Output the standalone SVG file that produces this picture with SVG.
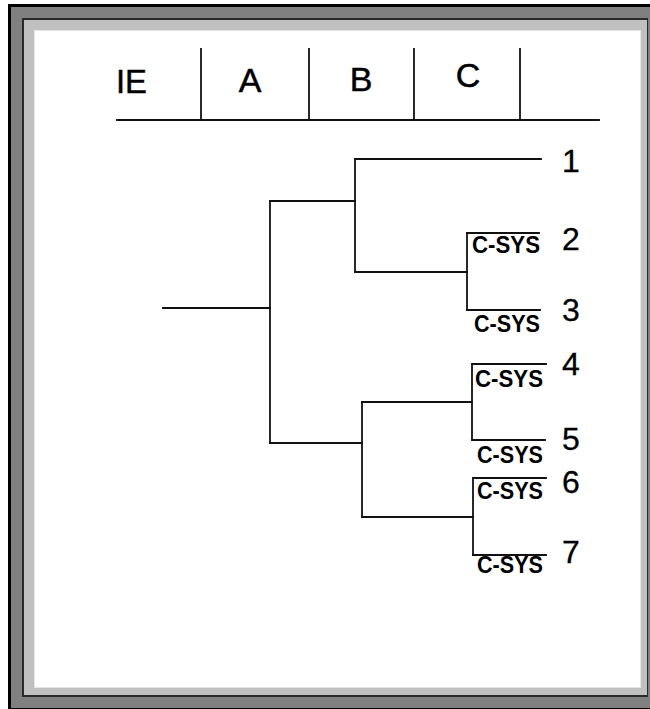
<svg xmlns="http://www.w3.org/2000/svg" width="650" height="709" viewBox="0 0 650 709">
<style>
.hdr{font-family:"Liberation Sans",Arial,sans-serif;font-size:34px;fill:#000;stroke:#000;stroke-width:0.5}
.num{font-family:"Liberation Sans",Arial,sans-serif;font-size:32px;fill:#000;stroke:#000;stroke-width:0.3}
.sys{font-family:"Liberation Sans",Arial,sans-serif;font-size:24px;font-weight:bold;fill:#000}
.ln{stroke:#111;stroke-width:1.8;fill:none;stroke-linecap:square}
</style>
<g id="frame">
<rect x="0" y="0" width="650" height="709" fill="#ffffff"/>
<rect x="8" y="4" width="660" height="720" fill="#000"/>
<rect x="11" y="7" width="660" height="701" fill="#808080"/>
<rect x="22" y="18" width="626" height="679" fill="#2a2a2a"/>
<rect x="24" y="20" width="623" height="675" fill="#c0c0c0"/>
<rect x="34" y="30" width="607" height="658" fill="#e6e6e6"/>
<rect x="35" y="31" width="605" height="656" fill="#ffffff"/>
</g>
<g id="header">
<line class="ln" x1="117" y1="120" x2="599" y2="120"/>
<line class="ln" x1="201" y1="49" x2="201" y2="120"/>
<line class="ln" x1="309" y1="49" x2="309" y2="120"/>
<line class="ln" x1="414" y1="49" x2="414" y2="120"/>
<line class="ln" x1="520" y1="49" x2="520" y2="120"/>
<text class="hdr" x="116" y="93" textLength="31" lengthAdjust="spacingAndGlyphs">IE</text>
<text class="hdr" x="250" y="92" text-anchor="middle">A</text>
<text class="hdr" x="361" y="91" text-anchor="middle">B</text>
<text class="hdr" x="468" y="87" text-anchor="middle">C</text>
</g>
<g id="connectors">
<line class="ln" x1="163" y1="308" x2="270" y2="308"/>
<line class="ln" x1="270" y1="201" x2="270" y2="443"/>
<line class="ln" x1="270" y1="201" x2="355" y2="201"/>
<line class="ln" x1="270" y1="443" x2="362" y2="443"/>
<line class="ln" x1="355" y1="159" x2="355" y2="272"/>
<line class="ln" x1="355" y1="159" x2="541" y2="159"/>
<line class="ln" x1="355" y1="272" x2="467" y2="272"/>
<line class="ln" x1="467" y1="233" x2="467" y2="310"/>
<line class="ln" x1="467" y1="233" x2="539" y2="233"/>
<line class="ln" x1="467" y1="310" x2="540" y2="310"/>
<line class="ln" x1="362" y1="402" x2="362" y2="517"/>
<line class="ln" x1="362" y1="402" x2="472" y2="402"/>
<line class="ln" x1="362" y1="517" x2="473" y2="517"/>
<line class="ln" x1="472" y1="364" x2="472" y2="440"/>
<line class="ln" x1="472" y1="364" x2="546" y2="364"/>
<line class="ln" x1="472" y1="440" x2="545" y2="440"/>
<line class="ln" x1="473" y1="478" x2="473" y2="555"/>
<line class="ln" x1="473" y1="478" x2="546" y2="478"/>
<line class="ln" x1="473" y1="555" x2="546" y2="555"/>
</g>
<g id="leaf1"><text class="num" x="562" y="172">1</text></g>
<g id="leaf2"><text class="sys" x="472" y="253" textLength="68" lengthAdjust="spacingAndGlyphs">C-SYS</text><text class="num" x="562" y="250">2</text></g>
<g id="leaf3"><text class="sys" x="474" y="332" textLength="66" lengthAdjust="spacingAndGlyphs">C-SYS</text><text class="num" x="562" y="321">3</text></g>
<g id="leaf4"><text class="sys" x="475" y="387" textLength="68" lengthAdjust="spacingAndGlyphs">C-SYS</text><text class="num" x="562" y="375">4</text></g>
<g id="leaf5"><text class="sys" x="477" y="463" textLength="66" lengthAdjust="spacingAndGlyphs">C-SYS</text><text class="num" x="562" y="450">5</text></g>
<g id="leaf6"><text class="sys" x="477" y="499" textLength="66" lengthAdjust="spacingAndGlyphs">C-SYS</text><text class="num" x="562" y="493">6</text></g>
<g id="leaf7"><text class="sys" x="477" y="573" textLength="66" lengthAdjust="spacingAndGlyphs">C-SYS</text><text class="num" x="562" y="563">7</text></g>
</svg>
